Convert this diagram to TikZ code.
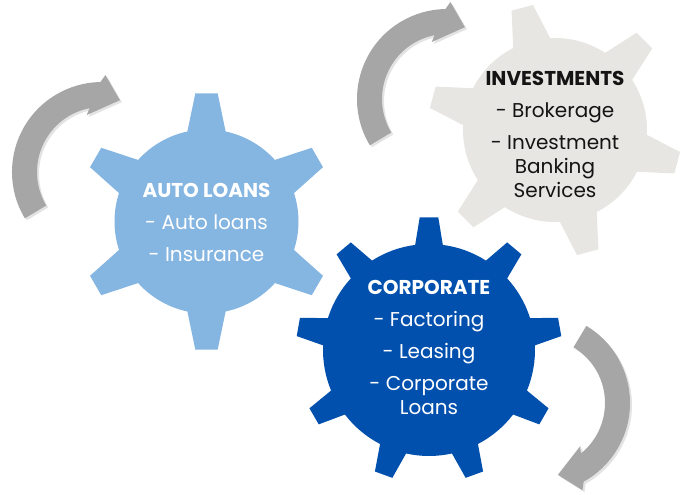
\documentclass[tikz,border=0pt]{standalone}
\usepackage{fontspec}
\setmainfont{Poppins}
\usepackage{xcolor}
\usepackage{tikz}
\usetikzlibrary{shadows}
\definecolor{autoblue}{RGB}{133,181,225}
\definecolor{corpblue}{RGB}{2,80,174}
\definecolor{investgray}{RGB}{231,230,226}
\definecolor{arrowgray}{RGB}{166,166,166}
\definecolor{inkblack}{RGB}{20,20,20}

% gear outline: #1 teeth, #2 first tooth angle, #3 body radius, #4 tip radius,
% #5 half angle of a tooth at its base, #6 half angle at its tip
\newcommand{\gearoutline}[6]{%
  ({#2-#5}:#3)
  \foreach \k in {1,...,#1}{
    -- ({#2+(\k-1)*360/#1-#6}:#4) -- ({#2+(\k-1)*360/#1+#6}:#4)
    -- ({#2+(\k-1)*360/#1+#5}:#3)
    arc[start angle={#2+(\k-1)*360/#1+#5}, end angle={#2+\k*360/#1-#5}, radius=#3]
  } -- cycle}

% bent block arrow around the origin, turning clockwise
\newcommand{\bentarrow}{%
  (211:90) arc[start angle=211, end angle=91, radius=90]
  -- (88:97) -- (76:74) -- (105:59) -- (101:65)
  arc[start angle=101, end angle=211, radius=65] -- cycle}

\begin{document}
\begin{tikzpicture}[
    x=1pt, y=1pt,
    turnarrow/.style={fill=arrowgray, drop shadow={opacity=0.22, shadow xshift=2pt, shadow yshift=-2pt}},
    gearlabel/.style={align=center, font=\fontsize{20}{24}\selectfont},
]
\useasboundingbox (0,0) rectangle (686,495);

% === Turning arrows ===
\fill[turnarrow, shift={(102,323)}] \bentarrow;
\fill[turnarrow, shift={(447,396)}] \bentarrow;
\fill[turnarrow, shift={(540,92)}, rotate=-152] \bentarrow;

% === Gears ===
\fill[investgray, shift={(555,365)}] \gearoutline{6}{105}{92}{127}{12}{5};
\fill[autoblue, shift={(206.5,273.5)}] \gearoutline{6}{90}{92}{128.5}{12}{5};
\fill[corpblue, shift={(429,145)}] \gearoutline{9}{90}{106}{133}{7.5}{4};

% === Labels ===
\node[gearlabel, text=white] (auto) at (206.5,273)
    {\textbf{AUTO LOANS}\\[8pt]- Auto loans\\[8pt]- Insurance};
\node[gearlabel, text=inkblack] (invest) at (555,361)
    {\textbf{INVESTMENTS}\\[8pt]- Brokerage\\[8pt]- Investment\\Banking\\Services};
\node[gearlabel, text=white] (corp) at (429,148)
    {\textbf{CORPORATE}\\[8pt]- Factoring\\[8pt]- Leasing\\[8pt]- Corporate\\Loans};

\end{tikzpicture}
\end{document}
